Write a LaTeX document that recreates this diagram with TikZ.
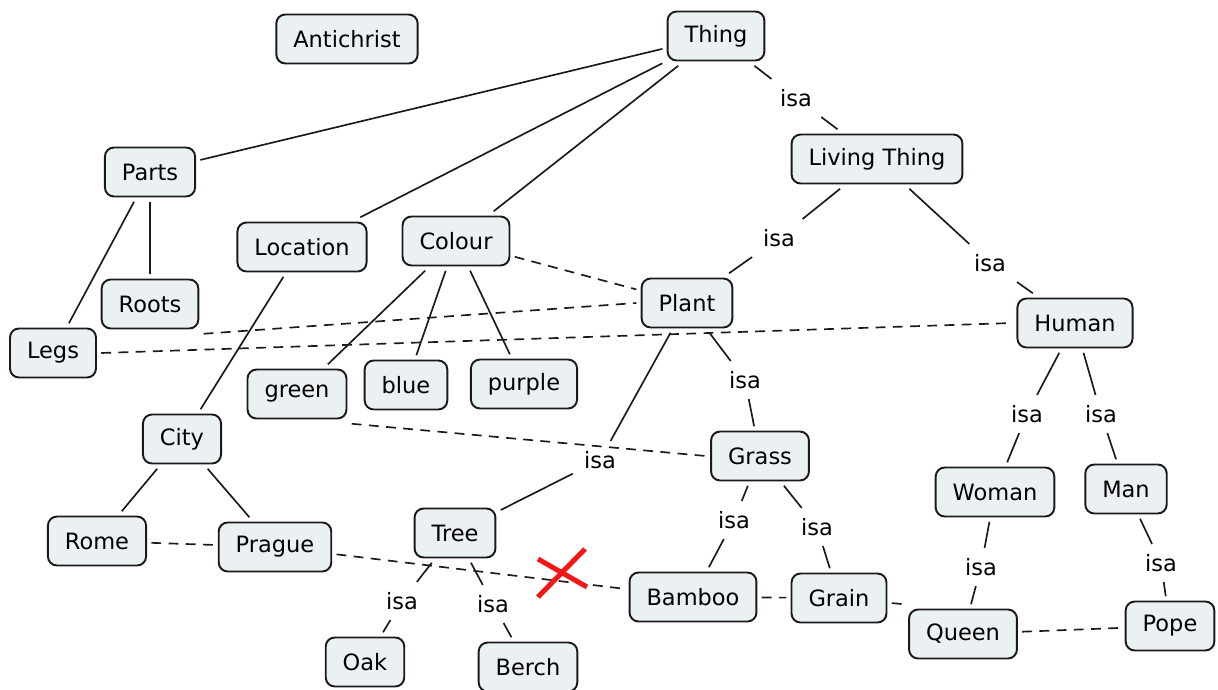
\documentclass[tikz,border=0pt]{standalone}
\usepackage{fontspec}
\setmainfont{DejaVu Sans}
\usepackage{xcolor}
\usepackage{tikz}
\definecolor{CMFill}{HTML}{EBF1F3}
\definecolor{CMLine}{HTML}{1A1A1A}
\definecolor{CMCross}{HTML}{F21616}

\tikzset{
  concept/.style={draw=CMLine,fill=CMFill,line width=1.1pt,rounded corners=0.18cm,
    minimum height=0.98cm,inner xsep=0.34cm,outer sep=3pt,
    font=\fontsize{12.8}{15}\selectfont},
  isa/.style={inner xsep=0.22cm,inner ysep=0.2cm,font=\fontsize{12.8}{15}\selectfont},
  rel/.style={draw=CMLine,line width=0.95pt},
  xref/.style={draw=CMLine,line width=0.95pt,dash pattern=on 5.6pt off 4.2pt}
}

\begin{document}
\begin{tikzpicture}[x=0.02cm,y=-0.02cm]
\path[use as bounding box] (0,0) rectangle (1218,690);
% concepts
\node[concept] (antichrist) at (347,39) {Antichrist};
\node[concept] (thing) at (716,36) {Thing};
\node[concept] (living) at (877,159) {Living Thing};
\node[concept] (parts) at (150,172) {Parts};
\node[concept] (location) at (302,247) {Location};
\node[concept] (colour) at (456,241) {Colour};
\node[concept] (plant) at (687,303) {Plant};
\node[concept] (roots) at (150,304) {Roots};
\node[concept] (legs) at (53,353) {Legs};
\node[concept] (human) at (1075,323) {Human};
\node[concept] (green) at (297,394) {green};
\node[concept] (blue) at (406,385) {blue};
\node[concept] (purple) at (524,384) {purple};
\node[concept] (city) at (182,439) {City};
\node[concept] (grass) at (760,456) {Grass};
\node[concept] (woman) at (995,492) {Woman};
\node[concept] (man) at (1126,489) {Man};
\node[concept] (rome) at (97,541) {Rome};
\node[concept] (prague) at (275,547) {Prague};
\node[concept] (tree) at (455,533) {Tree};
\node[concept] (bamboo) at (693,597) {Bamboo};
\node[concept] (grain) at (839,598) {Grain};
\node[concept] (queen) at (963,634) {Queen};
\node[concept] (pope) at (1170,626) {Pope};
\node[concept] (oak) at (365,662) {Oak};
\node[concept] (berch) at (528,667) {Berch};

% isa labels
\node[isa] (i1) at (796,98) {isa};
\node[isa] (i2) at (779,238) {isa};
\node[isa] (i3) at (990,263) {isa};
\node[isa] (i4) at (745,380) {isa};
\node[isa] (i5) at (600,460) {isa};
\node[isa] (i6) at (1027,414) {isa};
\node[isa] (i7) at (1101,414) {isa};
\node[isa] (i8) at (734,520) {isa};
\node[isa] (i9) at (817,527) {isa};
\node[isa] (i10) at (402,601) {isa};
\node[isa] (i11) at (493,604) {isa};
\node[isa] (i12) at (981,567) {isa};
\node[isa] (i13) at (1161,563) {isa};

% plain links
\draw[rel] (thing) -- (parts);
\draw[rel] (thing) -- (location);
\draw[rel] (thing) -- (colour);
\draw[rel] (parts) -- (legs);
\draw[rel] (parts) -- (roots);
\draw[rel] (location) -- (city);
\draw[rel] (colour) -- (green);
\draw[rel] (colour) -- (blue);
\draw[rel] (colour) -- (purple);
\draw[rel] (city) -- (rome);
\draw[rel] (city) -- (prague);

% isa links
\draw[rel] (thing) -- (i1);  \draw[rel] (i1) -- (living);
\draw[rel] (living) -- (i2); \draw[rel] (i2) -- (plant);
\draw[rel] (living) -- (i3); \draw[rel] (i3) -- (human);
\draw[rel] (plant) -- (i4);  \draw[rel] (i4) -- (grass);
\draw[rel] (plant) -- (i5);  \draw[rel] (i5) -- (tree);
\draw[rel] (human) -- (i6);  \draw[rel] (i6) -- (woman);
\draw[rel] (human) -- (i7);  \draw[rel] (i7) -- (man);
\draw[rel] (grass) -- (i8);  \draw[rel] (i8) -- (bamboo);
\draw[rel] (grass) -- (i9);  \draw[rel] (i9) -- (grain);
\draw[rel] (tree) -- (i10);  \draw[rel] (i10) -- (oak);
\draw[rel] (tree) -- (i11);  \draw[rel] (i11) -- (berch);
\draw[rel] (woman) -- (i12); \draw[rel] (i12) -- (queen);
\draw[rel] (man) -- (i13);   \draw[rel] (i13) -- (pope);

% dashed cross links
\draw[xref] (roots.south east) -- (plant.west);
\draw[xref] (legs.east) -- (human.west);
\draw[xref] (colour) -- (plant);
\draw[xref] (green.south east) -- (grass.west);
\draw[xref] (rome) -- (prague);
\draw[xref] (prague) -- (bamboo);
\draw[xref] (bamboo) -- (grain);
\draw[xref] (grain) -- (queen.north west);
\draw[xref] (queen) -- (pope);

% cut mark
\draw[CMCross,line width=0.1cm] (538,559) -- (587,587);
\draw[CMCross,line width=0.1cm] (585,549) -- (538,597);
\end{tikzpicture}
\end{document}
